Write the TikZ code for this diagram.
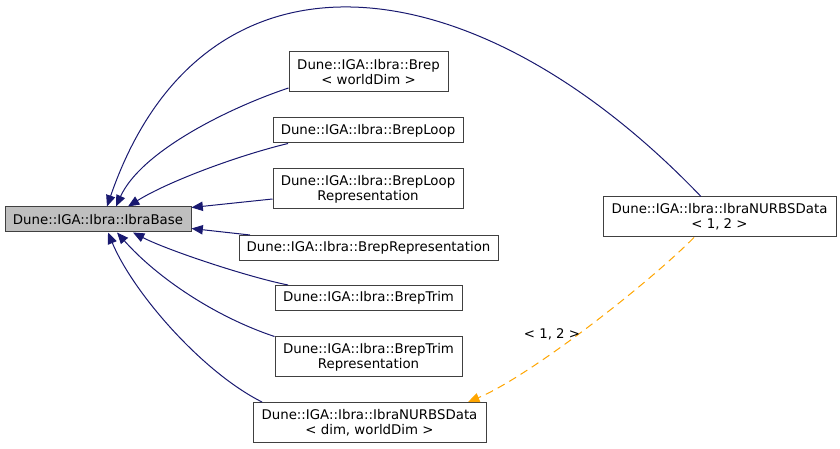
\documentclass[tikz,border=0pt]{standalone}
\usepackage{fontspec}
\setmainfont{DejaVu Sans}
\usepackage{tikz}
\usetikzlibrary{arrows.meta}
\definecolor{edgeblue}{HTML}{191970}
\definecolor{tmplorange}{HTML}{FFA500}
\tikzset{
  cls/.style={draw=black!75, line width=0.75pt, inner sep=0pt, align=center,
    minimum height=18.75pt, font=\fontsize{10}{11}\selectfont},
  cls2/.style={cls, minimum height=30pt},
  inherit/.style={edgeblue, line width=0.75pt, {Triangle[length=8.5pt, width=7pt]}-},
  tmpl/.style={tmplorange, line width=0.75pt, dash pattern=on 6pt off 4pt, -{Triangle[length=8.5pt, width=7pt]}}
}

\begin{document}
\begin{tikzpicture}[x=0.75pt, y=-0.75pt]
\useasboundingbox (0,0) rectangle (840,449);

\node[cls, fill=black!25, minimum width=139.5pt] (base) at (98,219.5) {Dune::IGA::Ibra::IbraBase};
\node[cls2, minimum width=119.25pt] (brep) at (368.5,72) {Dune::IGA::Ibra::Brep\\< worldDim >};
\node[cls, minimum width=142.5pt] (loop) at (368,130.5) {Dune::IGA::Ibra::BrepLoop};
\node[cls2, minimum width=142.5pt] (looprep) at (368,189) {Dune::IGA::Ibra::BrepLoop\\Representation};
\node[cls, minimum width=194.25pt] (brepresent) at (368.5,248) {Dune::IGA::Ibra::BrepRepresentation};
\node[cls, minimum width=140.25pt] (trim) at (368.5,298) {Dune::IGA::Ibra::BrepTrim};
\node[cls2, minimum width=140.25pt] (trimrep) at (368.5,357) {Dune::IGA::Ibra::BrepTrim\\Representation};
\node[cls2, minimum width=174.75pt] (nurbsdim) at (369.5,422.5) {Dune::IGA::Ibra::IbraNURBSData\\< dim, worldDim >};
\node[cls2, minimum width=174.75pt] (nurbsone) at (719.5,217) {Dune::IGA::Ibra::IbraNURBSData\\< 1, 2 >};

\draw[inherit] ([xshift=6.75pt]base.north) .. controls +(95,-275) and +(-230,-240) .. ([xshift=-13.9pt]nurbsone.north);
\draw[inherit] ([xshift=13.5pt]base.north) .. controls +(25,-55) and +(-60,20) .. ([yshift=-12pt]brep.west);
\draw[inherit] ([xshift=22.5pt]base.north) .. controls +(40,-25) and +(-50,12) .. ([xshift=-60pt]loop.south);
\draw[inherit] ([yshift=9pt]base.east) -- ([yshift=-7.5pt]looprep.west);
\draw[inherit] ([yshift=-6.75pt]base.east) -- ([xshift=-88.9pt]brepresent.north);
\draw[inherit] ([xshift=26.25pt]base.south) .. controls +(35,18) and +(-40,-8) .. ([xshift=-60.4pt]trim.north);
\draw[inherit] ([xshift=14.25pt]base.south) .. controls +(40,45) and +(-60,-20) .. (trimrep.north west);
\draw[inherit] ([xshift=7.5pt]base.south) .. controls +(25,60) and +(-60,-30) .. ([xshift=-80.6pt]nurbsdim.north);

\draw[tmpl] ([xshift=-19.1pt]nurbsone.south) .. controls +(-50,50) and +(60,-25) .. ([xshift=73.9pt]nurbsdim.north);
\node[font=\fontsize{10}{11}\selectfont] (targs) at (552,334) {< 1, 2 >};
\end{tikzpicture}
\end{document}
